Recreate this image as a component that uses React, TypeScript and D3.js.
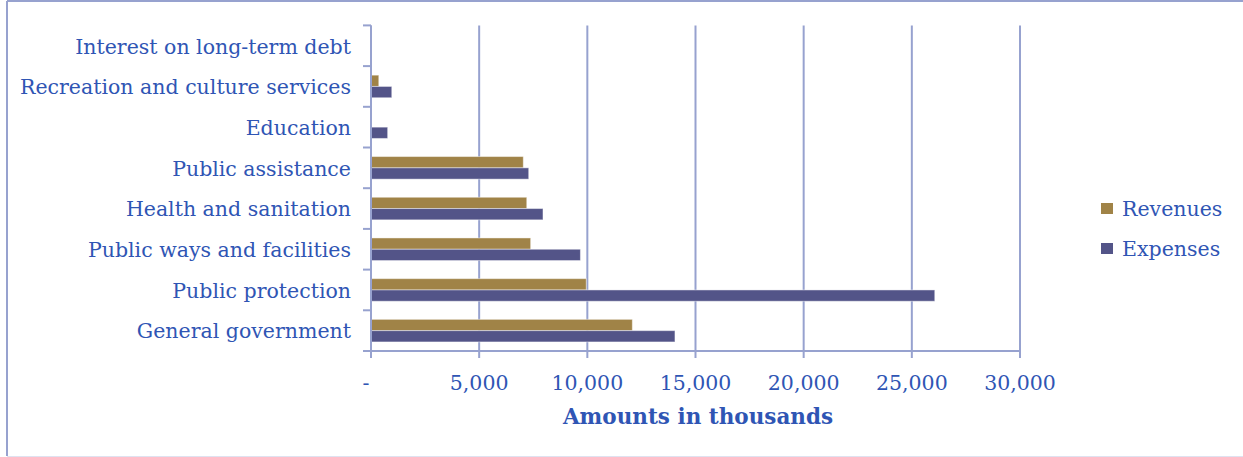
import React from "react";
import * as d3 from "d3";

const categories = [
  "General government",
  "Public protection",
  "Public ways and facilities",
  "Health and sanitation",
  "Public assistance",
  "Education",
  "Recreation and culture services",
  "Interest on long-term debt",
];
const revenues = [12080, 9950, 7380, 7200, 7040, 0, 360, 0];
const expenses = [14050, 26060, 9680, 7950, 7290, 770, 960, 0];
const seriesNames = ["Revenues", "Expenses"];
const xTicks = [0, 5000, 10000, 15000, 20000, 25000, 30000];
const axisTitle = "Amounts in thousands";

const W = 1243;
const H = 457;
const FONT = "'DejaVu Serif', serif";
const TEXT = "#2f55b4";
const GRID = "#97a2cf";
const COLORS = ["#a08347", "#535488"];

export default function App() {
  const left = 371;
  const right = 1020;
  const top = 25.4;
  const bottom = 351;

  const x = d3.scaleLinear().domain([0, 30000]).range([left, right]);
  const order = categories.slice().reverse(); // top to bottom
  const y = d3
    .scaleBand<string>()
    .domain(order)
    .range([top, bottom])
    .paddingInner(0.445)
    .paddingOuter(0.2225);
  const inner = d3
    .scaleBand<number>()
    .domain([0, 1])
    .range([0, y.bandwidth()]);
  const step = y.step();
  const boundaries = d3.range(order.length + 1).map((i) => top + i * step);

  const values = [revenues, expenses];
  const fmt = d3.format(",");

  return (
    <svg
      width={W}
      height={H}
      style={{ position: "absolute", left: 0, top: 0, background: "#fff" }}
    >
      {/* frame */}
      <line x1={7} y1={1} x2={W} y2={1} stroke={GRID} strokeWidth={2} />
      <line x1={7} y1={1} x2={7} y2={456} stroke={GRID} strokeWidth={2} />
      <line x1={7} y1={456.5} x2={W} y2={456.5} stroke="#dfe2f0" strokeWidth={1} />

      {/* vertical gridlines + x ticks */}
      {xTicks.map((t) => (
        <line
          key={"g" + t}
          x1={x(t)}
          x2={x(t)}
          y1={top}
          y2={bottom + 7}
          stroke={GRID}
          strokeWidth={2}
        />
      ))}
      {/* x axis line */}
      <line x1={left} x2={right} y1={bottom} y2={bottom} stroke={GRID} strokeWidth={2} />
      {/* y axis ticks */}
      {boundaries.map((b, i) => (
        <line
          key={"yt" + i}
          x1={left - 8}
          x2={left}
          y1={b}
          y2={b}
          stroke={GRID}
          strokeWidth={2}
        />
      ))}

      {/* bars */}
      {categories.map((c, ci) =>
        values.map((vals, si) => {
          const v = vals[ci];
          if (!v) return null;
          const by = (y(c) as number) + (inner(si) as number);
          return (
            <rect
              key={c + si}
              x={x(0)}
              y={by}
              width={x(v) - x(0)}
              height={inner.bandwidth()}
              fill={COLORS[si]}
              stroke="#ffffff"
              strokeOpacity={0.45}
              strokeWidth={1}
            />
          );
        })
      )}

      {/* y axis line drawn over bars */}
      <line x1={left} x2={left} y1={top} y2={bottom} stroke={GRID} strokeWidth={2} />

      {/* category labels */}
      {order.map((c) => (
        <text
          key={"l" + c}
          x={351}
          y={(y(c) as number) + y.bandwidth() / 2}
          dy="0.38em"
          textAnchor="end"
          fontFamily={FONT}
          fontSize={20.5}
          fill={TEXT}
        >
          {c}
        </text>
      ))}

      {/* x tick labels */}
      {xTicks.map((t) => (
        <text
          key={"xl" + t}
          x={t === 0 ? x(t) - 5 : x(t)}
          y={390}
          textAnchor="middle"
          fontFamily={FONT}
          fontSize={20.5}
          fill={TEXT}
        >
          {t === 0 ? "-" : fmt(t)}
        </text>
      ))}

      {/* axis title */}
      <text
        x={698}
        y={424}
        textAnchor="middle"
        fontFamily={FONT}
        fontSize={21.5}
        fontWeight="bold"
        fill={TEXT}
      >
        {axisTitle}
      </text>

      {/* legend */}
      {seriesNames.map((s, i) => (
        <g key={s} transform={`translate(1101, ${203 + i * 40})`}>
          <rect x={0} y={0} width={12} height={11} fill={COLORS[i]} />
          <text
            x={21}
            y={12.5}
            fontFamily={FONT}
            fontSize={20.5}
            fill={TEXT}
          >
            {s}
          </text>
        </g>
      ))}
    </svg>
  );
}
